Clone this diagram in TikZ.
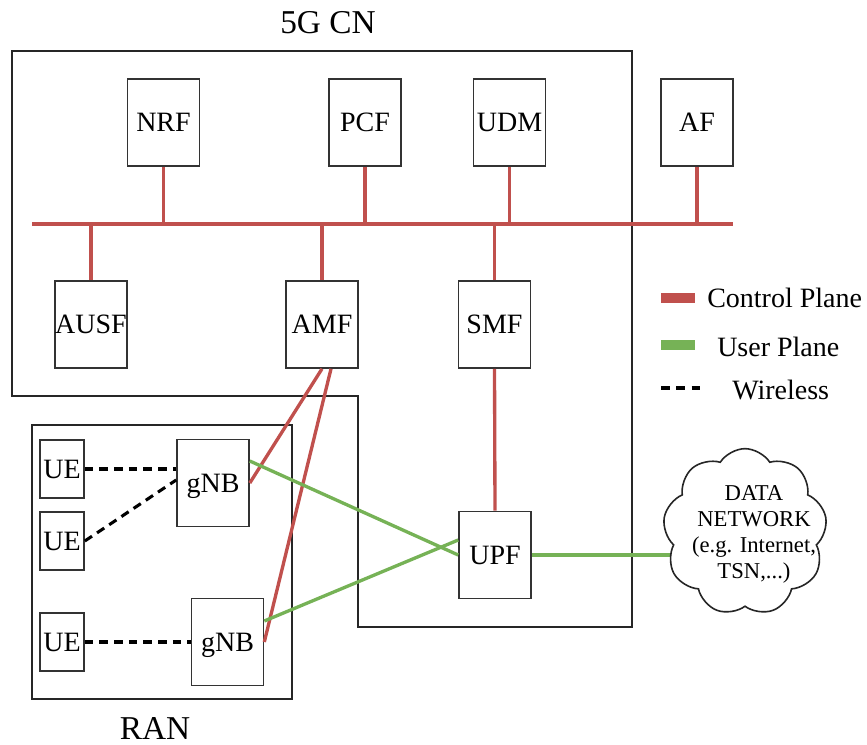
\documentclass[tikz,border=0pt]{standalone}
\usepackage{fontspec}
\setmainfont{Liberation Serif}
\usetikzlibrary{shapes.symbols}
\definecolor{cpred}{RGB}{192,80,77}
\definecolor{upgreen}{RGB}{118,178,86}

\begin{document}
\begin{tikzpicture}[x=0.75pt,y=0.75pt,yscale=-1,xscale=1,
  nf/.style={draw=black!80,line width=1.2pt,minimum width=54pt,minimum height=65.25pt,inner sep=0pt,text depth=0pt,font=\fontsize{21}{25}\selectfont},
  ue/.style={nf,minimum width=33pt,minimum height=43.5pt},
  cp/.style={cpred,line width=2.5pt},
  upl/.style={upgreen,line width=2.5pt},
  wl/.style={black,line width=2.3pt,dash pattern={on 6.5pt off 4.5pt}},
  frame/.style={draw=black!85,line width=1.2pt},
  lbl/.style={inner sep=0pt,font=\fontsize{21}{25}\selectfont}]
\useasboundingbox (0,0) rectangle (867,745);

%Shape: Polygon (5G CN)
\draw [frame] (12,51) -- (632,51) -- (632,627) -- (358,627) -- (358,396) -- (12,396) -- cycle ;
%Shape: Rectangle (RAN)
\draw [frame] (32,425) rectangle (292,699) ;

% Network functions
\node [nf] (nrf) at (163.5,122.5) {NRF};
\node [nf] (pcf) at (365,122.5) {PCF};
\node [nf] (udm) at (509.5,122.5) {UDM};
\node [nf] (af) at (697,122.5) {AF};
\node [nf] (ausf) at (91,324.5) {AUSF};
\node [nf] (amf) at (322,324.5) {AMF};
\node [nf] (smf) at (494.5,324.5) {SMF};
\node [nf] (upf) at (495,555) {UPF};
\node [nf] (gnba) at (213,483) {gNB};
\node [nf] (gnbb) at (227.5,642) {gNB};
\node [ue] (uea) at (62,469) {UE};
\node [ue] (ueb) at (62,541) {UE};
\node [ue] (uec) at (62,642) {UE};

%Straight Lines (service bus)
\coordinate (busw) at (32,224);
\coordinate (buse) at (733,224);
\draw [cp] (busw) -- (buse) ;
\draw [cp] (nrf.south) -- (nrf.south |- busw) ;
\draw [cp] (pcf.south) -- (pcf.south |- busw) ;
\draw [cp] (udm.south) -- (udm.south |- busw) ;
\draw [cp] (af.south) -- (af.south |- busw) ;
\draw [cp] (ausf.north) -- (ausf.north |- busw) ;
\draw [cp] (amf.north) -- (amf.north |- busw) ;
\draw [cp] (smf.north) -- (smf.north |- busw) ;

%Straight Lines (control plane)
\draw [cp] (smf.south) -- (upf.north) ;
\draw [cp] (amf.south) -- (gnba.east) ;
\draw [cp] ([xshift=6.75pt]amf.south) -- (gnbb.east) ;

%Straight Lines (user plane)
\draw [upl] ([yshift=-16.5pt]gnba.east) -- (upf.west) ;
\draw [upl] ([yshift=-15.75pt]gnbb.east) -- ([yshift=-11.25pt]upf.west) ;

%Straight Lines (wireless)
\draw [wl] (uea.east) -- (uea.east -| gnba.west) ;
\draw [wl] (ueb.east) -- ([yshift=-2.25pt]gnba.west) ;
\draw [wl] (uec.east) -- (uec.east -| gnbb.west) ;

%Shape: Cloud
\coordinate (dnc) at (745,532);
\draw [upl] (upf.east) -- (upf.east -| dnc) ;
\node [cloud, cloud puffs=9, cloud puff arc=115, cloud ignores aspect, draw=black!85, line width=1.2pt, fill=white, minimum width=123pt, minimum height=125pt] (dn) at (dnc) {};
% Text Node
\node [align=center, inner sep=0pt, font=\fontsize{17}{19.5}\selectfont] (dntext) at (754,534) {DATA\\NETWORK\\(e.g. Internet,\\TSN,...)};

% Text Node
\node [inner sep=0pt, font=\fontsize{25}{30}\selectfont] (cnlabel) at (328,23) {5G CN};
% Text Node
\node [inner sep=0pt, font=\fontsize{25}{30}\selectfont] (ranlabel) at (155,728) {RAN};

% Legend
\draw [cpred, line width=7.5pt] (661,298) -- (695,298) ;
\node [lbl, anchor=west] (lgcp) at (707,298) {Control Plane};
\draw [upgreen, line width=7.5pt] (661,345) -- (695,345) ;
\node [lbl, anchor=west] (lgup) at (717,347) {User Plane};
\draw [wl, dash pattern={on 6.5pt off 5pt}] (661,388) -- (703,388) ;
\node [lbl, anchor=west] (lgwl) at (732,390) {Wireless};

\end{tikzpicture}
\end{document}
